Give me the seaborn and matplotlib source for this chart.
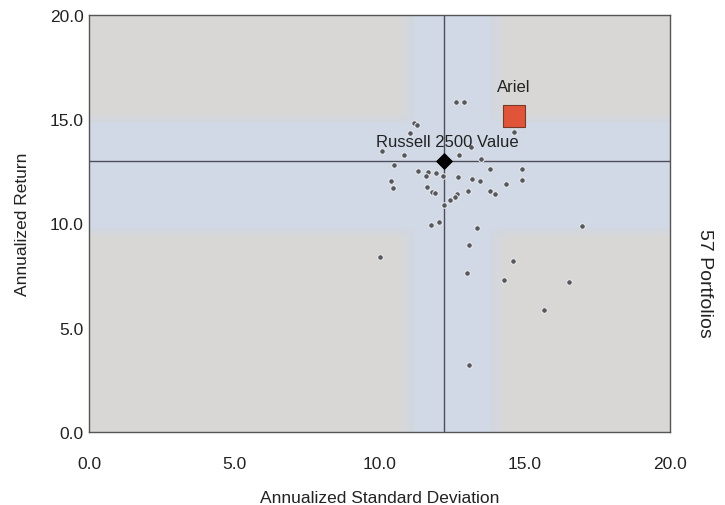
import matplotlib
matplotlib.use("Agg")
import matplotlib.pyplot as plt
import seaborn as sns
import pandas as pd

# ---- data ----
peer_std = [12.63, 12.92, 11.17, 11.30, 11.05, 14.63, 10.07, 10.85, 13.14, 12.74,
            13.48, 10.50, 11.31, 11.68, 11.93, 11.60, 12.17, 12.69, 13.80, 14.89,
            10.38, 13.17, 13.46, 14.89, 10.48, 11.65, 11.82, 11.91, 14.35, 13.06,
            13.80, 13.98, 12.68, 12.60, 12.43, 12.22, 11.76, 12.06, 13.36, 16.98,
            13.07, 10.02, 14.59, 13.02, 14.29, 16.52, 15.65, 13.08]
peer_ret = [15.84, 15.81, 14.82, 14.74, 14.34, 14.37, 13.46, 13.29, 13.65, 13.29,
            13.09, 12.81, 12.53, 12.45, 12.42, 12.26, 12.26, 12.21, 12.61, 12.61,
            12.05, 12.13, 12.05, 12.08, 11.70, 11.73, 11.52, 11.46, 11.89, 11.57,
            11.57, 11.41, 11.41, 11.26, 11.14, 10.89, 9.94, 10.09, 9.77, 9.86,
            8.97, 8.38, 8.19, 7.63, 7.28, 7.21, 5.86, 3.23]
highlight_names = ["Ariel", "Russell 2500 Value"]
highlight_std = [14.63, 12.22]
highlight_ret = [15.15, 13.00]
band_std = [11.2, 13.8]
band_ret = [9.8, 14.8]
tick_vals = [0.0, 5.0, 10.0, 15.0, 20.0]
tick_labels = ["0.0", "5.0", "10.0", "15.0", "20.0"]
n_portfolios = 57

sns.set_theme(style="white")
plt.rcParams['font.family'] = ['Liberation Sans', 'DejaVu Sans']

fig = plt.figure(figsize=(7.25, 5.06), dpi=100)
ax = fig.add_axes([0.1228, 0.1443, 0.8014, 0.8241])

gray = "#d8d7d5"
blue = "#d2d9e6"
ax.set_facecolor(gray)
# soft-edged bands: core plus feathered fringe
n_f = 6
fringe = 0.45
for i in range(n_f):
    w = fringe * (1 - i / n_f)
    ax.axvspan(band_std[0] - w, band_std[1] + w, color=blue, alpha=0.18, lw=0, zorder=0)
    ax.axhspan(band_ret[0] - w, band_ret[1] + w, color=blue, alpha=0.18, lw=0, zorder=0)
ax.axvspan(band_std[0], band_std[1], color=blue, lw=0, zorder=0)
ax.axhspan(band_ret[0], band_ret[1], color=blue, lw=0, zorder=0)

ax.axvline(highlight_std[1], color="#4a4f5a", lw=1.0, zorder=1)
ax.axhline(highlight_ret[1], color="#4a4f5a", lw=1.0, zorder=1)

peers = pd.DataFrame({"std": peer_std, "ret": peer_ret})
sns.scatterplot(data=peers, x="std", y="ret", ax=ax, color="#55585e", s=16,
                edgecolor="#eeeeee", linewidth=0.7, zorder=3)

sns.scatterplot(x=[highlight_std[1]], y=[highlight_ret[1]], ax=ax, marker="D",
                color="black", s=65, edgecolor="black", zorder=4)
sns.scatterplot(x=[highlight_std[0]], y=[highlight_ret[0]], ax=ax, marker="s",
                color="#e0553a", s=230, edgecolor="#7a3a2a", linewidth=0.8, zorder=4)

ax.text(highlight_std[0], highlight_ret[0] + 1.4, highlight_names[0], ha="center",
        va="center", fontsize=12, color="#222222", zorder=5)
ax.text(highlight_std[1] + 0.1, highlight_ret[1] + 0.95, highlight_names[1], ha="center",
        va="center", fontsize=12, color="#222222", zorder=5)

ax.set_xlim(0, 20)
ax.set_ylim(0, 20)
ax.set_xticks(tick_vals)
ax.set_xticklabels(tick_labels)
ax.set_yticks(tick_vals)
ax.set_yticklabels(tick_labels)
ax.tick_params(axis="x", length=0, pad=17, labelsize=12.5, labelcolor="#222222")
ax.tick_params(axis="y", length=0, pad=4, labelsize=12.5, labelcolor="#222222")
ax.set_xlabel("Annualized Standard Deviation", fontsize=12.5, color="#222222", labelpad=14)
ax.set_ylabel("Annualized Return", fontsize=12.5, color="#222222", labelpad=14)
for sp in ax.spines.values():
    sp.set_color("#555555")
    sp.set_linewidth(1.0)
ax.grid(False)

fig.text(0.972, 0.44, f"{n_portfolios} Portfolios", rotation=-90, ha="center",
         va="center", fontsize=14, color="#222222")

fig.savefig("out.png", dpi=100)
